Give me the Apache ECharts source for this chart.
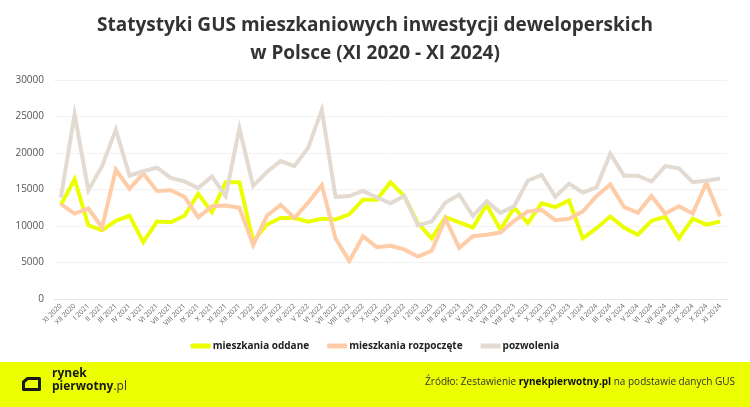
<!DOCTYPE html>
<html>
<head>
<meta charset="utf-8">
<script src="https://cdn.jsdelivr.net/npm/echarts@6/dist/echarts.min.js"></script>
<style>
html,body{margin:0;padding:0;background:#fff;}
#chart{width:750px;height:407px;}
</style>
</head>
<body>
<div id="chart"></div>
<script>
var categories = [
  'XI 2020','XII 2020',
  'I 2021','II 2021','III 2021','IV 2021','V 2021','VI 2021','VII 2021','VIII 2021','IX 2021','X 2021','XI 2021','XII 2021',
  'I 2022','II 2022','III 2022','IV 2022','V 2022','VI 2022','VII 2022','VIII 2022','IX 2022','X 2022','XI 2022','XII 2022',
  'I 2023','II 2023','III 2023','IV 2023','V 2023','VI 2023','VII 2023','VIII 2023','IX 2023','X 2023','XI 2023','XII 2023',
  'I 2024','II 2024','III 2024','IV 2024','V 2024','VI 2024','VII 2024','VIII 2024','IX 2024','X 2024','XI 2024'
];
var oddane = [
  12900,16400,
  10100,9400,10700,11400,7800,10600,10500,11400,14400,11900,16000,16000,
  7900,10200,11100,11100,10600,11000,10900,11600,13600,13600,16000,14100,
  10400,8300,11200,10500,9800,12900,9500,12500,10400,13100,12600,13500,
  8300,9700,11300,9800,8800,10700,11300,8300,11000,10200,10600
];
var rozpoczete = [
  13000,11700,
  12400,9800,17700,15100,17200,14800,14900,14000,11200,12700,12800,12500,
  7400,11400,12900,11100,13200,15600,8300,5200,8600,7100,7300,6800,
  5800,6600,11000,7000,8600,8800,9100,10700,12000,12200,10800,11000,
  12000,14100,15700,12600,11800,14100,11700,12700,11700,15900,11300
];
var pozwolenia = [
  13900,25300,
  14900,18200,23200,16900,17500,18000,16600,16100,15200,16800,14100,23400,
  15500,17400,18900,18200,20700,25900,14000,14100,14800,13900,13100,14100,
  10100,10600,13200,14300,11400,13400,11800,12700,16200,17000,14000,15800,
  14600,15300,19900,16900,16900,16100,18200,17900,16000,16200,16500
];
var yTicks = {min: 0, max: 30000, interval: 5000};
var seriesNames = ['mieszkania oddane', 'mieszkania rozpoczęte', 'pozwolenia'];
var seriesColors = ['#EBFF00', '#FFCCA8', '#E3DAD2'];

var chart = echarts.init(document.getElementById('chart'), null, {renderer: 'canvas'});
var FONT = '"Open Sans", Lato, sans-serif';
var dataSets = [oddane, rozpoczete, pozwolenia];
var option = {
  animation: false,
  backgroundColor: '#ffffff',
  title: {
    text: 'Statystyki GUS mieszkaniowych inwestycji deweloperskich\nw Polsce (XI 2020 - XI 2024)',
    left: 'center',
    top: 7,
    textStyle: {
      fontFamily: FONT,
      fontSize: 19,
      fontWeight: 'bold',
      color: '#333333',
      lineHeight: 28
    }
  },
  legend: {
    bottom: 51,
    left: 'center',
    itemWidth: 20,
    itemHeight: 5,
    itemGap: 18,
    icon: 'roundRect',
    data: seriesNames,
    textStyle: {fontFamily: FONT, fontSize: 10, fontWeight: 'bold', color: '#222222', padding: [0,0,0,-3]}
  },
  grid: {left: 54, right: 23, top: 80, bottom: 108},
  xAxis: {
    type: 'category',
    data: categories,
    boundaryGap: true,
    axisLine: {lineStyle: {color: '#e6e6e6'}},
    axisTick: {show: false},
    axisLabel: {
      interval: 0,
      rotate: 45,
      fontFamily: FONT,
      fontSize: 7,
      color: '#666666',
      margin: 6
    }
  },
  yAxis: {
    type: 'value',
    min: yTicks.min,
    max: yTicks.max,
    interval: yTicks.interval,
    axisLine: {show: false},
    axisTick: {show: false},
    splitLine: {lineStyle: {color: '#f2f2f2'}},
    axisLabel: {fontFamily: FONT, fontSize: 10, color: '#555555', margin: 10, formatter: function (v) { return String(v); }}
  },
  series: seriesNames.map(function (n, k) {
    return {
      name: n,
      type: 'line',
      data: dataSets[k],
      showSymbol: false,
      symbol: 'none',
      color: seriesColors[k],
      lineStyle: {width: 4, color: seriesColors[k], join: 'miter'}
    };
  }),
  graphic: [
    {type: 'rect', left: 0, top: 362, shape: {width: 750, height: 45}, style: {fill: '#EBFF00'}, z: 0},
    {type: 'polygon', shape: {points: [[27.5,378.5],[39.5,378.5],[39.5,389.5],[23.5,389.5],[23.5,382]]}, style: {fill: 'none', stroke: '#1a1a1a', lineWidth: 3, lineJoin: 'round'}, z: 10},
    {type: 'text', left: 52, top: 368, style: {text: 'rynek', font: 'bold 12px ' + FONT, fill: '#1a1a1a'}, z: 10},
    {type: 'text', left: 52, top: 381, style: {rich: {a: {font: 'bold 12px ' + FONT, fill: '#1a1a1a'}, b: {font: '12px ' + FONT, fill: '#333'}}, text: '{a|pierwotny}{b|.pl}'}, z: 10},
    {type: 'text', right: 15, top: 377, style: {rich: {a: {font: '10px ' + FONT, fill: '#333'}, b: {font: 'bold 10px ' + FONT, fill: '#111'}}, text: '{a|Źródło: Zestawienie }{b|rynekpierwotny.pl}{a| na podstawie danych GUS}'}, z: 10}
  ]
};
chart.setOption(option);
</script>
</body>
</html>
